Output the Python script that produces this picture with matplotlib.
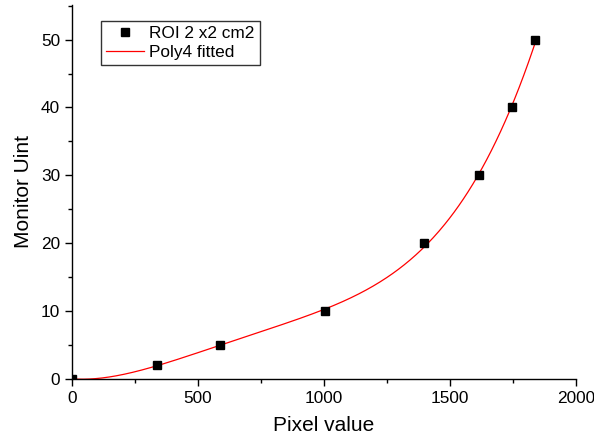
import numpy as np
import matplotlib
matplotlib.use("Agg")
import matplotlib.pyplot as plt
from matplotlib.ticker import MultipleLocator

plt.rcParams['font.family'] = ['Liberation Sans', 'DejaVu Sans']

# Calibration points: pixel value vs monitor units
pixel_value = [0, 337, 586, 1003, 1398, 1614, 1748, 1839]
monitor_units = [0, 2, 5, 10, 20, 30, 40, 50]

series_label = "ROI 2 x2 cm2"
fit_label = "Poly4 fitted"
x_label = "Pixel value"
y_label = "Monitor Uint"

# 4th order polynomial fit
coeffs = np.polyfit(pixel_value, monitor_units, 4)
x_fit = np.linspace(min(pixel_value), max(pixel_value), 400)
y_fit = np.polyval(coeffs, x_fit)

fig = plt.figure(figsize=(5.94, 4.43), dpi=100)
ax = fig.add_axes([72 / 594, 1 - 379 / 443, (576 - 72) / 594, (379 - 5) / 443])

ax.plot(pixel_value, monitor_units, linestyle='none', marker='s', markersize=6,
        color='black', label=series_label, zorder=3)
ax.plot(x_fit, y_fit, color='red', linewidth=0.9, label=fit_label, zorder=2)

ax.set_xlim(0, 2000)
ax.set_ylim(0, 55.1)

ax.spines['top'].set_visible(False)
ax.spines['right'].set_visible(False)
for s in ('left', 'bottom'):
    ax.spines[s].set_linewidth(1.0)

ax.xaxis.set_major_locator(MultipleLocator(500))
ax.xaxis.set_minor_locator(MultipleLocator(250))
ax.yaxis.set_major_locator(MultipleLocator(10))
ax.yaxis.set_minor_locator(MultipleLocator(5))
ax.tick_params(which='major', direction='out', length=5, width=1.0, labelsize=12.4)
ax.tick_params(which='minor', direction='out', length=3, width=1.0)

ax.set_xlabel(x_label, fontsize=15, labelpad=7)
ax.set_ylabel(y_label, fontsize=15, labelpad=6)

leg = ax.legend(loc='upper left', bbox_to_anchor=((101 - 72) / 504, (379 - 21) / 374),
                frameon=True, fancybox=False, edgecolor='black', fontsize=12.4,
                handlelength=2.2, handletextpad=0.3, borderpad=0.3,
                labelspacing=0.22, borderaxespad=0)
leg.get_frame().set_linewidth(1.0)

fig.savefig("out.png", dpi=100)
